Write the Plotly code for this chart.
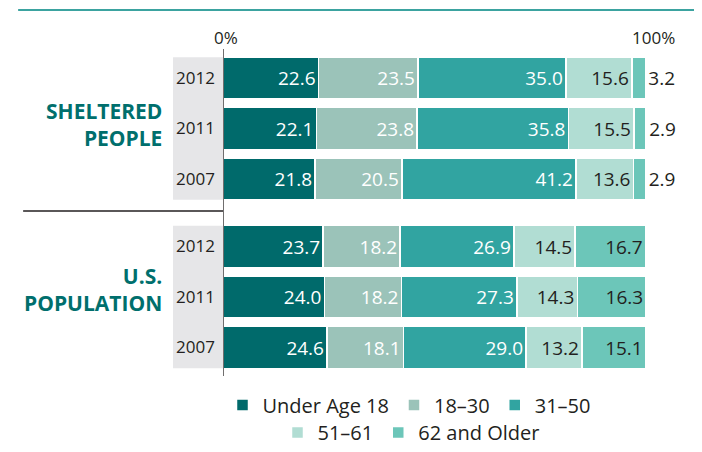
import plotly.graph_objects as go
from plotly.subplots import make_subplots

years = ["2012", "2011", "2007"]
group_labels = ["SHELTERED<br>PEOPLE", "U.S.<br>POPULATION"]
series_names = ["Under Age 18", "18–30", "31–50", "51–61", "62 and Older"]

sheltered_under18 = [22.6, 22.1, 21.8]
sheltered_18_30 = [23.5, 23.8, 20.5]
sheltered_31_50 = [35.0, 35.8, 41.2]
sheltered_51_61 = [15.6, 15.5, 13.6]
sheltered_62plus = [3.2, 2.9, 2.9]

us_under18 = [23.7, 24.0, 24.6]
us_18_30 = [18.2, 18.2, 18.1]
us_31_50 = [26.9, 27.3, 29.0]
us_51_61 = [14.5, 14.3, 13.2]
us_62plus = [16.7, 16.3, 15.1]

axis_labels = ["0%", "100%"]

colors = ["#006a6b", "#9bc3b9", "#31a4a1", "#b1ddd3", "#6cc6b9"]
text_colors = ["white", "white", "white", "#231f20", "#231f20"]
FONT = "Open Sans"
DARK = "#231f20"
TEAL_TEXT = "#006f6d"

sheltered = [sheltered_under18, sheltered_18_30, sheltered_31_50, sheltered_51_61, sheltered_62plus]
us = [us_under18, us_18_30, us_31_50, us_51_61, us_62plus]

# page body has an 8px margin; figure is sized/positioned to compensate
OFF = 8
W, H = 702 - OFF, 452 - OFF
X0 = 223                      # page x of 0%
PX_PER = 423.0 / 100.0        # page px per percent
XMAX = 100.3
PLOT_W = XMAX * PX_PER
L = X0 - OFF
R = W - L - PLOT_W


def fx(p):  # page x -> paper x
    return (p - X0) / PLOT_W


def fy(p):  # page y -> paper y
    return 1 - (p - OFF) / H


def cx(p):  # page x -> container x
    return (p - OFF) / W


fig = make_subplots(rows=2, cols=1, shared_xaxes=True, vertical_spacing=0.02)

for row, data in ((1, sheltered), (2, us)):
    for i, vals in enumerate(data):
        if i == 4:
            pos = ["outside" if v < 8 else "inside" for v in vals]
        else:
            pos = "inside"
        fig.add_trace(
            go.Bar(
                x=vals, y=years, orientation="h", name=series_names[i],
                marker=dict(color=colors[i], line=dict(color="white", width=1.5)),
                texttemplate="%{x:.1f}", textposition=pos,
                insidetextanchor="end", textangle=0, constraintext="none",
                insidetextfont=dict(color=text_colors[i], size=19, family=FONT),
                outsidetextfont=dict(color=DARK, size=19, family=FONT),
                cliponaxis=False,
                showlegend=(row == 1),
                legend="legend" if i < 3 else "legend2",
                hoverinfo="skip",
            ),
            row=row, col=1,
        )

fig.update_layout(
    width=W, height=H,
    margin=dict(l=L, r=R, t=0, b=0, autoexpand=False),
    barmode="stack", bargap=0.17,
    plot_bgcolor="white", paper_bgcolor="white",
    font=dict(family=FONT, color=DARK),
    legend=dict(orientation="h", xref="container", yref="paper",
                x=cx(409), xanchor="center", y=fy(405), yanchor="middle",
                traceorder="normal",
                font=dict(size=20, family=FONT, color=DARK),
                bgcolor="rgba(0,0,0,0)", itemclick=False),
    legend2=dict(orientation="h", xref="container", yref="container",
                 x=cx(411), xanchor="center", y=0, yanchor="bottom",
                 traceorder="normal",
                 font=dict(size=20, family=FONT, color=DARK),
                 bgcolor="rgba(0,0,0,0)", itemclick=False),
)

for ax in ("xaxis", "xaxis2"):
    fig.layout[ax].update(range=[0, XMAX], showgrid=False, zeroline=False,
                          showticklabels=False, showline=False, ticks="")

fig.layout.yaxis.update(domain=[fy(204.25), fy(52.75)])
fig.layout.yaxis2.update(domain=[fy(372.75), fy(221.25)])
for ax in ("yaxis", "yaxis2"):
    fig.layout[ax].update(type="category", categoryorder="array", categoryarray=years,
                          autorange="reversed", showgrid=False, zeroline=False,
                          showline=False, ticks="", ticklabelstandoff=7, automargin=False,
                          tickfont=dict(size=17, family=FONT, color=DARK))

# gray year boxes
for yr in ("y domain", "y2 domain"):
    fig.add_shape(type="rect", xref="paper", yref=yr, x0=fx(173), x1=0,
                  y0=0.03, y1=0.97, fillcolor="#e6e6e8", line_width=0, layer="below")

# group labels
for yr, lab, ys in (("y domain", group_labels[0], 4), ("y2 domain", group_labels[1], 8)):
    fig.add_annotation(xref="paper", yref=yr, x=fx(164), y=0.5, yshift=ys,
                       xanchor="right", yanchor="middle", align="right",
                       text="<b>" + lab + "</b>", showarrow=False,
                       font=dict(size=21, family=FONT, color=TEAL_TEXT))

# top teal rule
fig.add_shape(type="line", xref="paper", yref="paper",
              x0=fx(18), x1=fx(702), y0=fy(10), y1=fy(10),
              line=dict(color="#3ba3a0", width=2))
# separator between groups
fig.add_shape(type="line", xref="paper", yref="paper",
              x0=fx(23), x1=0, y0=fy(211), y1=fy(211),
              line=dict(color="#231f20", width=1.3))
# zero axis line
fig.add_shape(type="line", xref="x", yref="paper", x0=0, x1=0,
              y0=fy(376), y1=fy(49),
              line=dict(color="#231f20", width=1.3))

# axis end labels
fig.add_annotation(xref="x", yref="paper", x=0, y=fy(37), xshift=3,
                   text=axis_labels[0], showarrow=False, xanchor="center", yanchor="middle",
                   font=dict(size=17, family=FONT, color=DARK))
fig.add_annotation(xref="x", yref="paper", x=100, y=fy(37), xshift=8,
                   text=axis_labels[1], showarrow=False, xanchor="center", yanchor="middle",
                   font=dict(size=17, family=FONT, color=DARK))

fig.write_html("out.html")
